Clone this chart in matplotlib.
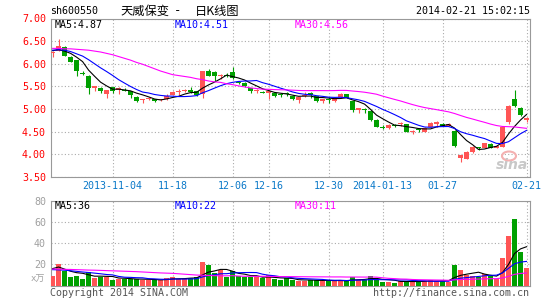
import numpy as np
import pandas as pd
import matplotlib
matplotlib.use("Agg")
import matplotlib.pyplot as plt
from matplotlib.patches import Ellipse

plt.rcParams['font.family'] = ['DejaVu Sans Mono', 'Noto Sans CJK SC']

# ---------------- data ----------------
opens = [6.23, 6.29, 6.36, 6.16, 6.08, 5.80, 5.74, 5.46, 5.47, 5.33,
         5.48, 5.43, 5.43, 5.39, 5.27, 5.19, 5.22, 5.22, 5.19, 5.22,
         5.31, 5.37, 5.40, 5.42, 5.39, 5.33, 5.85, 5.82, 5.72, 5.74,
         5.82, 5.59, 5.58, 5.46, 5.40, 5.37, 5.35, 5.35, 5.31, 5.34,
         5.29, 5.20, 5.28, 5.36, 5.28, 5.17, 5.23, 5.17, 5.26, 5.33,
         5.17, 4.98, 5.01, 4.95, 4.76, 4.61, 4.58, 4.64, 4.68, 4.67,
         4.49, 4.54, 4.50, 4.61, 4.67, 4.68, 4.63, 4.52, 3.92, 3.90,
         4.06, 4.15, 4.15, 4.23, 4.15, 4.17, 4.71, 5.22, 5.03, 4.76]
highs = [6.29, 6.55, 6.40, 6.18, 6.09, 5.83, 5.75, 5.51, 5.48, 5.43,
         5.49, 5.48, 5.47, 5.40, 5.28, 5.23, 5.27, 5.23, 5.23, 5.33,
         5.39, 5.44, 5.45, 5.48, 5.40, 5.85, 5.89, 5.83, 5.78, 5.79,
         5.94, 5.62, 5.59, 5.47, 5.44, 5.40, 5.40, 5.36, 5.35, 5.37,
         5.31, 5.27, 5.38, 5.37, 5.29, 5.23, 5.26, 5.25, 5.35, 5.34,
         5.18, 5.03, 5.02, 4.97, 4.77, 4.64, 4.66, 4.66, 4.72, 4.68,
         4.53, 4.56, 4.60, 4.71, 4.73, 4.69, 4.70, 4.53, 3.99, 4.07,
         4.18, 4.17, 4.25, 4.24, 4.21, 4.61, 5.08, 5.42, 5.05, 4.83]
lows = [6.16, 6.28, 6.17, 6.03, 5.74, 5.76, 5.33, 5.39, 5.35, 5.24,
        5.36, 5.33, 5.39, 5.25, 5.16, 5.14, 5.20, 5.15, 5.17, 5.20,
        5.30, 5.31, 5.37, 5.36, 5.29, 5.24, 5.72, 5.63, 5.66, 5.70,
        5.67, 5.55, 5.48, 5.35, 5.36, 5.35, 5.22, 5.27, 5.27, 5.29,
        5.21, 5.13, 5.26, 5.24, 5.15, 5.14, 5.14, 5.16, 5.25, 5.24,
        4.93, 4.91, 4.92, 4.74, 4.60, 4.56, 4.57, 4.60, 4.63, 4.49,
        4.44, 4.50, 4.49, 4.60, 4.60, 4.62, 4.62, 4.17, 3.84, 3.89,
        4.02, 4.10, 4.14, 4.14, 4.14, 4.16, 4.66, 5.05, 4.84, 4.72]
closes = [6.27, 6.40, 6.18, 6.05, 5.83, 5.78, 5.46, 5.50, 5.40, 5.42,
          5.41, 5.47, 5.41, 5.30, 5.17, 5.22, 5.25, 5.17, 5.20, 5.28,
          5.38, 5.38, 5.41, 5.37, 5.31, 5.84, 5.74, 5.72, 5.73, 5.72,
          5.68, 5.58, 5.50, 5.39, 5.41, 5.36, 5.39, 5.29, 5.30, 5.33,
          5.23, 5.26, 5.31, 5.31, 5.17, 5.22, 5.21, 5.24, 5.33, 5.25,
          4.98, 5.02, 4.97, 4.75, 4.61, 4.59, 4.65, 4.63, 4.69, 4.50,
          4.50, 4.53, 4.59, 4.69, 4.72, 4.63, 4.67, 4.19, 3.98, 4.06,
          4.17, 4.14, 4.24, 4.15, 4.19, 4.60, 5.07, 5.07, 4.86, 4.80]
volumes = [9.0, 20.3, 14.0, 8.2, 9.2, 6.1, 13.2, 7.4, 8.3, 8.3,
           5.5, 6.0, 6.3, 6.5, 6.2, 5.2, 5.2, 5.2, 5.0, 7.4,
           8.2, 6.0, 6.0, 7.3, 8.5, 22.4, 19.2, 11.5, 14.6, 8.3,
           14.0, 9.0, 7.8, 7.8, 7.8, 7.0, 10.0, 5.8, 5.5, 6.8,
           5.3, 4.0, 4.7, 5.3, 5.3, 4.7, 4.0, 4.0, 5.6, 4.0,
           8.4, 5.3, 5.3, 9.4, 5.3, 3.7, 3.7, 2.8, 4.0, 4.7,
           3.7, 3.4, 4.4, 5.0, 4.7, 4.7, 3.7, 19.8, 15.0, 10.3,
           9.4, 8.4, 11.0, 9.4, 6.3, 25.8, 47.2, 62.5, 31.5, 16.5]

# moving-average values at the left edge (their windows start before the chart)
ma5_head = [6.29, 6.31, 6.28, 6.23]
ma10_head = [6.30, 6.31, 6.30, 6.27, 6.22, 6.17, 6.09, 6.00, 5.91]
ma30_head = [6.34, 6.34, 6.33, 6.33, 6.32, 6.31, 6.30, 6.28, 6.26, 6.23,
             6.20, 6.16, 6.12, 6.08, 6.03, 5.99, 5.94, 5.89, 5.84, 5.80,
             5.76, 5.74, 5.72, 5.70, 5.67, 5.65, 5.62, 5.60, 5.59]
vma5_head = [16.0, 17.5, 15.5, 13.5]
vma10_head = [15.0, 14.8, 14.5, 14.0, 13.4, 12.8, 12.3, 11.7, 11.1]
vma30_head = [15.6, 15.5, 15.3, 15.2, 15.0, 14.8, 14.6, 14.5, 14.3, 14.1,
              13.9, 13.7, 13.5, 13.3, 13.1, 12.8, 12.5, 12.2, 11.9, 11.7,
              11.5, 11.1, 10.7, 10.3, 9.9, 9.7, 9.5, 9.3, 9.2]

date_idx = [10, 20, 30, 36, 46, 55, 65, 79]
date_labels = ["2013-11-04", "11-18", "12-06", "12-16", "12-30",
               "2014-01-13", "01-27", "02-21"]
price_ticks = [3.5, 4.0, 4.5, 5.0, 5.5, 6.0, 6.5, 7.0]
vol_ticks = [20, 40, 60, 80]

code = "sh600550"
title_name = "天威保变"
title_kind = "日K线图"
timestamp = "2014-02-21 15:02:15"
price_ma_text = ["MA5:4.87", "MA10:4.51", "MA30:4.56"]
vol_ma_text = ["MA5:36", "MA10:22", "MA30:11"]
vol_unit = "x万"
copyright_text = "Copyright 2014 SINA.COM"
url_text = "http://finance.sina.com.cn"

# ---------------- styling ----------------
RED = "#ff5555"
GREEN = "#00a000"
MA_COLORS = ["#000000", "#0000ff", "#ff00ff"]
GRID = "#aaaaaa"
BORDER = "#999999"
FS = 7.2

W, H = 545, 300


def box(l, t, r, b):
    return [l / W, 1 - b / H, (r - l) / W, (b - t) / H]


def ftxt(x, y, s, **kw):
    fig.text(x / W, 1 - y / H, s, va="center", **kw)


def moving(values, n, head):
    m = pd.Series(values, dtype=float).rolling(n).mean().to_numpy()
    m[:n - 1] = head
    return m


o = np.array(opens)
h = np.array(highs)
l = np.array(lows)
c = np.array(closes)
v = np.array(volumes)
x = np.arange(len(c))
up = c >= o
colors = np.where(up, RED, GREEN)

fig = plt.figure(figsize=(W / 100, H / 100), dpi=100)
ax = fig.add_axes(box(50.5, 18.5, 529.5, 177))
axv = fig.add_axes(box(50.5, 201, 529.5, 285.5))

# ---- price panel ----
ax.vlines(x, l, h, colors=colors, lw=0.8, zorder=2)
ax.bar(x, np.maximum(np.abs(c - o), 0.022), bottom=np.minimum(o, c),
       width=0.75, color=colors, lw=0, zorder=3)
for n, head, col in zip([5, 10, 30], [ma5_head, ma10_head, ma30_head], MA_COLORS):
    ax.plot(x, moving(c, n, head), color=col, lw=0.8, zorder=4)

ax.set_xlim(-0.35, 79.5)
ax.set_ylim(3.5, 7.0)
ax.set_yticks(price_ticks)
ax.set_yticklabels([f"{t:.2f}" for t in price_ticks], color="#ff0000", fontsize=FS)
ax.set_xticks(date_idx)
ax.set_xticklabels(date_labels, color="#0a78c8", fontsize=FS)
ax.tick_params(length=0, pad=3.2)

# ---- volume panel ----
axv.bar(x, v, width=0.78, color=colors, lw=0, zorder=3)
for n, head, col in zip([5, 10, 30], [vma5_head, vma10_head, vma30_head], MA_COLORS):
    axv.plot(x, moving(v, n, head), color=col, lw=0.8, zorder=4)
axv.set_xlim(-0.35, 79.5)
axv.set_ylim(0, 80)
axv.set_yticks(vol_ticks)
axv.set_yticklabels([str(t) for t in vol_ticks], color="#a0a0a0", fontsize=FS)
axv.set_xticks(date_idx)
axv.set_xticklabels([])
axv.tick_params(length=0, pad=3.2)

for a in (ax, axv):
    a.grid(True, color=GRID, linestyle=(0, (1, 2)), lw=0.8, zorder=1)
    a.set_axisbelow(True)
    for s in a.spines.values():
        s.set_color(BORDER)
        s.set_linewidth(0.8)

# ---- texts ----
ftxt(49.8, 11.5, code, fontsize=FS, color="black")
ftxt(120, 11.0, title_name, fontsize=8.8, color="black", family="Noto Sans CJK SC")
ftxt(177.5, 11.0, "-", fontsize=8.8, color="black", ha="center")
ftxt(195, 11.0, title_kind, fontsize=8.8, color="black", family="Noto Sans CJK SC")
ftxt(530, 11.5, timestamp, fontsize=FS, color="black", ha="right")

for xx, s, col in zip([55, 175, 295], price_ma_text, MA_COLORS):
    ftxt(xx, 25, s, fontsize=FS, color=col)
for xx, s, col in zip([55, 175, 295], vol_ma_text, MA_COLORS):
    ftxt(xx, 206, s, fontsize=FS, color=col)

ftxt(45, 279, vol_unit, fontsize=6.5, color="#a0a0a0", ha="right",
     family=["DejaVu Sans Mono", "Noto Sans CJK SC"])
ftxt(50, 292.5, copyright_text, fontsize=FS, color="#555555")
ftxt(529.5, 292.5, url_text, fontsize=FS, color="#555555", ha="right")

# sina watermark
fig.patches.append(Ellipse((509 / W, 1 - 156 / H), 14 / W, 9 / H, transform=fig.transFigure,
                           fill=False, ec="#f4b0b0", lw=1.5, zorder=0.5))
ftxt(512, 165, "sina", fontsize=10, color="#c8c8c8", ha="center",
     family="DejaVu Sans", fontweight="bold", fontstyle="italic")

fig.savefig("out.png", dpi=100)
